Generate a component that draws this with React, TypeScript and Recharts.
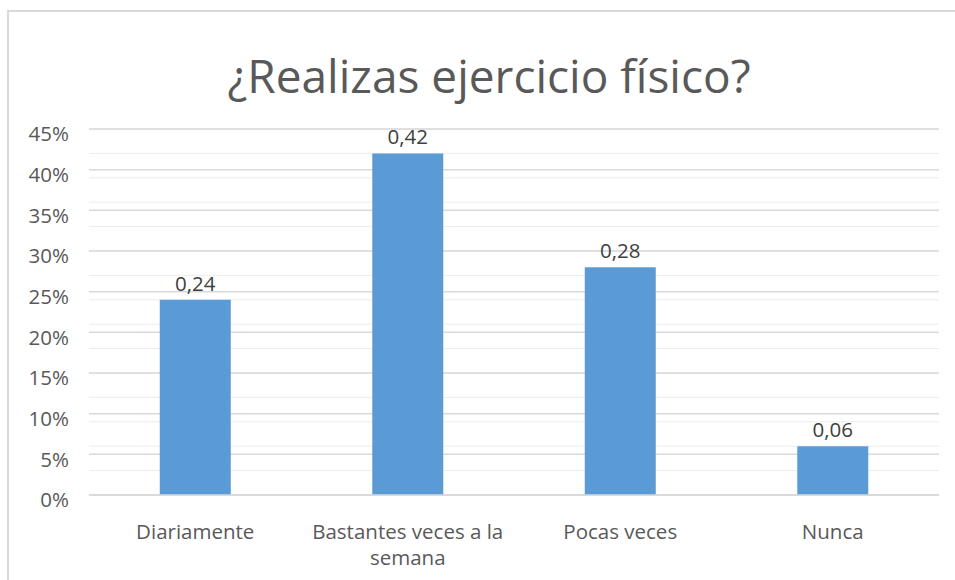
import { BarChart, Bar, XAxis, YAxis, CartesianGrid, LabelList } from "recharts";

const categories = ["Diariamente", "Bastantes veces a la semana", "Pocas veces", "Nunca"];
const values = [0.24, 0.42, 0.28, 0.06];
const yTicks = [0, 0.05, 0.1, 0.15, 0.2, 0.25, 0.3, 0.35, 0.4, 0.45];

const data = categories.map((name, i) => ({ name, value: values[i] }));

// minor gridlines every 1%
const minorLines = Array.from({ length: 46 }, (_, i) => i / 100);

const FONT = "'Open Sans', sans-serif";

// greedy word wrap, excel breaks "Bastantes veces a la" / "semana"
function wrap(label: string, maxChars: number) {
  const lines: string[] = [];
  let cur = "";
  for (const w of label.split(" ")) {
    const next = cur ? cur + " " + w : w;
    if (next.length > maxChars && cur) {
      lines.push(cur);
      cur = w;
    } else {
      cur = next;
    }
  }
  if (cur) lines.push(cur);
  return lines;
}

const CategoryTick = (props: any) => {
  const { x, y, payload } = props;
  const lines = wrap(String(payload.value), 20);
  return (
    <text x={x} y={y + 36} textAnchor="middle" fill="#595959" fontSize={20.5} fontFamily={FONT}>
      {lines.map((l, i) => (
        <tspan key={i} x={x} dy={i === 0 ? 0 : 26}>
          {l}
        </tspan>
      ))}
    </text>
  );
};

export default function App() {
  return (
    <div
      style={{
        position: "absolute",
        left: 0,
        top: 0,
        width: 955,
        height: 580,
        overflow: "hidden",
        background: "#fff",
      }}
    >
      <div
        style={{
          position: "absolute",
          left: 7,
          top: 10,
          width: 980,
          height: 600,
          border: "2px solid #d9d9d9",
        }}
      />
      <svg width={955} height={120} style={{ position: "absolute", left: 0, top: 0 }}>
        <text
          x={489}
          y={93}
          textAnchor="middle"
          fontFamily={FONT}
          fontSize={46}
          fill="#595959"
        >
          ¿Realizas ejercicio físico?
        </text>
      </svg>
      <div style={{ position: "absolute", left: 0, top: 0 }}>
        <BarChart
          width={955}
          height={580}
          data={data}
          margin={{ top: 129, right: 16, bottom: 55, left: 0 }}
          barCategoryGap="33.3%"
        >
          <CartesianGrid
            vertical={false}
            horizontalValues={minorLines}
            stroke="#ececec"
            strokeWidth={1}
          />
          <CartesianGrid
            vertical={false}
            horizontalValues={yTicks}
            stroke="#d9d9d9"
            strokeWidth={1.5}
          />
          <XAxis
            dataKey="name"
            height={30}
            axisLine={{ stroke: "#d9d9d9", strokeWidth: 1.5 }}
            tickLine={false}
            tick={(p: any) => <CategoryTick {...p} />}
            interval={0}
          />
          <YAxis
            width={89}
            domain={[0, 0.45]}
            ticks={yTicks}
            axisLine={false}
            tickLine={false}
            tickMargin={14}
            tickFormatter={(v: number) => `${Math.round(v * 100)}%`}
            tick={{ fill: "#595959", fontSize: 20.5, fontFamily: FONT, dy: 5 }}
          />
          <Bar dataKey="value" fill="#5b9bd5" isAnimationActive={false}>
            <LabelList
              dataKey="value"
              position="top"
              offset={9}
              fill="#404040"
              fontSize={20.5}
              fontFamily={FONT}
              formatter={(v: any) => String(v).replace(".", ",")}
            />
          </Bar>
        </BarChart>
      </div>
    </div>
  );
}
